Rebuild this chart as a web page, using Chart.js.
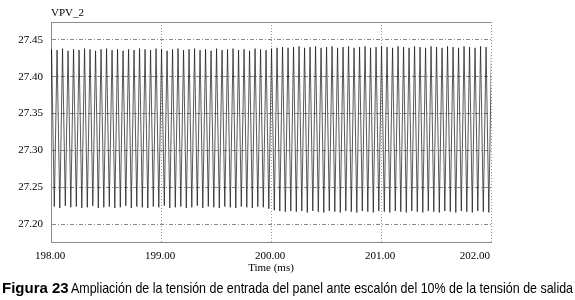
<!DOCTYPE html>
<html>
<head>
<meta charset="utf-8">
<script src="https://cdn.jsdelivr.net/npm/chart.js@4.4.1/dist/chart.umd.min.js"></script>
<style>
  body { margin: 0; background: #fff; }
  canvas { display: block; }
</style>
</head>
<body>
<canvas id="chart-1" width="575" height="300" style="width:575px;height:300px"></canvas>
<script>
// time samples (ms), alternating trough / peak of the ripple
const timeMs = [
  197.980, 198.005, 198.030, 198.055, 198.080, 198.105, 198.130, 198.155, 198.180, 198.205,
  198.230, 198.255, 198.280, 198.305, 198.330, 198.355, 198.380, 198.405, 198.430, 198.455,
  198.480, 198.505, 198.530, 198.555, 198.580, 198.605, 198.630, 198.655, 198.680, 198.705,
  198.730, 198.755, 198.780, 198.805, 198.830, 198.855, 198.880, 198.905, 198.930, 198.955,
  198.980, 199.005, 199.030, 199.055, 199.080, 199.105, 199.130, 199.155, 199.180, 199.205,
  199.230, 199.255, 199.280, 199.305, 199.330, 199.355, 199.380, 199.405, 199.430, 199.455,
  199.480, 199.505, 199.530, 199.555, 199.580, 199.605, 199.630, 199.655, 199.680, 199.705,
  199.730, 199.755, 199.780, 199.805, 199.830, 199.855, 199.880, 199.905, 199.930, 199.955,
  199.980, 200.005, 200.030, 200.055, 200.080, 200.105, 200.130, 200.155, 200.180, 200.205,
  200.230, 200.255, 200.280, 200.305, 200.330, 200.355, 200.380, 200.405, 200.430, 200.455,
  200.480, 200.505, 200.530, 200.555, 200.580, 200.605, 200.630, 200.655, 200.680, 200.705,
  200.730, 200.755, 200.780, 200.805, 200.830, 200.855, 200.880, 200.905, 200.930, 200.955,
  200.980, 201.005, 201.030, 201.055, 201.080, 201.105, 201.130, 201.155, 201.180, 201.205,
  201.230, 201.255, 201.280, 201.305, 201.330, 201.355, 201.380, 201.405, 201.430, 201.455,
  201.480, 201.505, 201.530, 201.555, 201.580, 201.605, 201.630, 201.655, 201.680, 201.705,
  201.730, 201.755, 201.780, 201.805, 201.830, 201.855, 201.880, 201.905, 201.930, 201.955,
  201.980, 202.005, 202.030
];

// VPV_2 (V)
const vpv2 = [
  27.223, 27.437, 27.224, 27.436, 27.222, 27.438, 27.225, 27.435, 27.223, 27.437,
  27.224, 27.436, 27.222, 27.438, 27.223, 27.437, 27.225, 27.435, 27.222, 27.437,
  27.223, 27.438, 27.224, 27.436, 27.222, 27.437, 27.223, 27.435, 27.225, 27.437,
  27.222, 27.436, 27.224, 27.438, 27.223, 27.437, 27.222, 27.436, 27.224, 27.438,
  27.223, 27.437, 27.225, 27.435, 27.222, 27.437, 27.223, 27.438, 27.224, 27.436,
  27.222, 27.437, 27.223, 27.438, 27.225, 27.436, 27.222, 27.437, 27.224, 27.435,
  27.223, 27.438, 27.222, 27.436, 27.224, 27.437, 27.223, 27.438, 27.222, 27.436,
  27.224, 27.437, 27.223, 27.435, 27.222, 27.438, 27.224, 27.437, 27.223, 27.436,
  27.221, 27.438, 27.219, 27.439, 27.218, 27.440, 27.217, 27.439, 27.218, 27.440,
  27.217, 27.441, 27.218, 27.439, 27.216, 27.440, 27.218, 27.441, 27.217, 27.439,
  27.216, 27.440, 27.218, 27.441, 27.217, 27.439, 27.216, 27.440, 27.218, 27.441,
  27.217, 27.439, 27.216, 27.440, 27.218, 27.441, 27.217, 27.439, 27.216, 27.440,
  27.218, 27.441, 27.217, 27.440, 27.216, 27.439, 27.218, 27.441, 27.217, 27.440,
  27.216, 27.439, 27.218, 27.441, 27.217, 27.440, 27.216, 27.439, 27.218, 27.441,
  27.217, 27.440, 27.216, 27.439, 27.218, 27.441, 27.217, 27.440, 27.216, 27.439,
  27.218, 27.441, 27.217, 27.440, 27.216, 27.439, 27.218, 27.441, 27.217, 27.440,
  27.216, 27.439, 27.218
];

const xTicks = [198, 199, 200, 201, 202];
const yTicks = [27.20, 27.25, 27.30, 27.35, 27.40, 27.45];

const serif = "'Liberation Serif', 'Times New Roman', serif";

// frame top line, series name, x labels and figure caption
const extras = {
  id: 'extras',
  afterDraw(chart) {
    const c = chart.ctx;
    const a = chart.chartArea;
    const xs = chart.scales.x;
    c.save();
    c.strokeStyle = '#8c8c8c';
    c.lineWidth = 1;
    c.beginPath();
    c.moveTo(a.left, Math.round(a.top) + 0.5);
    c.lineTo(a.right, Math.round(a.top) + 0.5);
    c.stroke();

    c.fillStyle = '#000';
    c.font = '11px ' + serif;
    c.textBaseline = 'alphabetic';
    c.textAlign = 'left';
    c.fillText('VPV_2', 51, 16);

    c.textBaseline = 'middle';
    xTicks.forEach((v, i) => {
      const px = xs.getPixelForValue(v);
      c.textAlign = i === xTicks.length - 1 ? 'right' : 'center';
      c.fillText(v.toFixed(2), px - 1, 256);
    });

    // caption
    c.textBaseline = 'alphabetic';
    c.textAlign = 'left';
    c.font = "bold 15px 'Liberation Sans', Arial, sans-serif";
    c.fillText('Figura 23', 2, 293);
    const rest = 'Ampliación de la tensión de entrada del panel ante escalón del 10% de la tensión de salida';
    c.font = "15px 'Liberation Sans Narrow', 'Liberation Sans', Arial, sans-serif";
    const w = c.measureText(rest).width;
    c.translate(71, 293);
    c.scale(502 / w, 1);
    c.fillText(rest, 0, 0);
    c.restore();
  }
};

const ctx1 = document.getElementById('chart-1').getContext('2d');
const myChart = new Chart(ctx1, {
    type: 'line',
    data: {
        datasets: [{
            label: 'VPV_2',
            data: timeMs.map((t, i) => ({ x: t, y: vpv2[i] })),
            borderColor: '#111',
            borderWidth: 0.7,
            pointRadius: 0,
            tension: 0,
            fill: false,
        }],
    },
    options: {
        responsive: false,
        animation: false,
        layout: { padding: { left: 0, top: 22, right: 84, bottom: 24 } },
        plugins: { legend: { display: false }, tooltip: { enabled: false } },
        scales: {
            x: {
                type: 'linear',
                min: 198,
                max: 202,
                afterBuildTicks: s => { s.ticks = xTicks.map(v => ({ value: v })); },
                afterFit: s => { s.height = 34; },
                ticks: { display: false },
                grid: { color: '#9a9a9a', drawTicks: false },
                border: { color: '#8c8c8c', dash: [1, 2] },
                title: {
                    display: true,
                    text: 'Time (ms)',
                    color: '#000',
                    font: { family: serif, size: 11 },
                    padding: { top: 0, bottom: 1 },
                },
            },
            y: {
                min: 27.176,
                max: 27.474,
                afterBuildTicks: s => { s.ticks = yTicks.map(v => ({ value: v })); },
                afterFit: s => { s.width = 51; },
                ticks: {
                    callback: v => v.toFixed(2),
                    color: '#000',
                    font: { family: serif, size: 11 },
                    padding: 8,
                },
                grid: { color: '#8a8a8a', drawTicks: false },
                border: { color: '#8c8c8c', dash: [4, 2, 1, 2] },
            },
        },
    },
    plugins: [extras],
});
</script>
</body>
</html>
